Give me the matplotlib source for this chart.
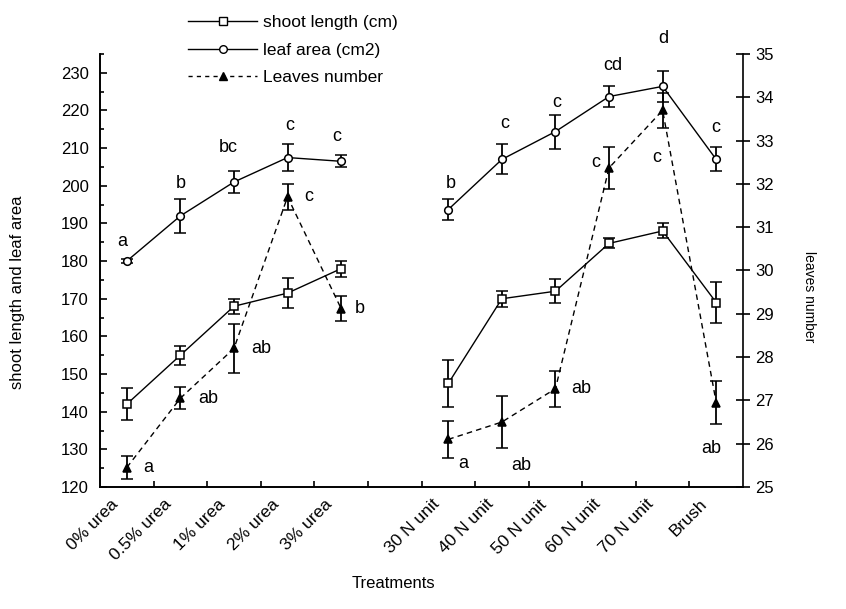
import matplotlib
matplotlib.use("Agg")
import matplotlib.pyplot as plt
from matplotlib.lines import Line2D
from matplotlib.ticker import MultipleLocator
from matplotlib.transforms import ScaledTranslation

# ---------------------------------------------------------------------------
# Data
# ---------------------------------------------------------------------------
treatments = ["0% urea", "0.5% urea", "1% urea", "2% urea", "3% urea",
              "30 N unit", "40 N unit", "50 N unit", "60 N unit",
              "70 N unit", "Brush"]
slots = [0, 1, 2, 3, 4, 6, 7, 8, 9, 10, 11]     # slot 5 is the gap

shoot_length = [142, 155, 168, 171.5, 178, 147.5, 170, 172, 184.7, 188, 169]
shoot_err    = [4.2, 2.5, 2.0, 4.0, 2.1, 6.2, 2.1, 3.2, 1.3, 2.0, 5.5]

leaf_area = [180, 192, 201, 207.5, 206.5, 193.7, 207, 214.4, 223.7, 226.4, 207]
leaf_err  = [0.6, 4.5, 3.0, 3.7, 1.6, 2.7, 4.0, 4.5, 2.8, 4.2, 3.2]

leaves     = [25.45, 27.05, 28.2, 31.7, 29.12, 26.1, 26.5, 27.27, 32.37, 33.7, 26.95]
leaves_err = [0.27, 0.25, 0.57, 0.30, 0.29, 0.42, 0.60, 0.42, 0.48, 0.40, 0.50]

leaf_letters   = ["a", "b", "bc", "c", "c", "b", "c", "c", "cd", "d", "c"]
leaves_letters = ["a", "ab", "ab", "c", "b", "a", "ab", "ab", "c", "c", "ab"]

# letter placement (pixels from the marker)
leaf_letter_off = [(-5, 20), (0, 32), (-6, 35), (2, 32), (-4, 25), (3, 26),
                   (3, 36), (1, 29), (4, 31), (1, 48), (0, 32)]
leaves_letter_off = [(21, 0), (28, 0), (27, 0), (21, 0), (19, 0), (15, -24),
                     (19, -43), (26, 0), (-13, 5), (-6, -47), (-5, -46)]

# ---------------------------------------------------------------------------
# Style
# ---------------------------------------------------------------------------
plt.rcParams.update({
    "font.family": ["Liberation Sans", "DejaVu Sans"],
    "font.size": 12,
    "axes.linewidth": 1.2,
})
BLACK = "black"
FS = 12


def groups(values):
    """Split a per-treatment list into the urea group and the N group."""
    return (slots[:5], values[:5]), (slots[5:], values[5:])


def draw_series(ax, values, errs, marker, ls, mfc):
    for (xs, ys), (_, es) in zip(groups(values), groups(errs)):
        ax.errorbar(xs, ys, yerr=es, color=BLACK, lw=1.0, ls=ls,
                    dashes=(4, 3) if ls == "--" else (None, None),
                    marker=marker, ms=5.5, mfc=mfc, mec=BLACK, mew=1.1,
                    ecolor=BLACK, elinewidth=1.3, capsize=4, capthick=1.3)


fig = plt.figure(figsize=(8.46, 6.09), dpi=100)
ax = fig.add_axes([100 / 846, 1 - 487 / 609, 643 / 846, 433 / 609])
ax2 = ax.twinx()

draw_series(ax, shoot_length, shoot_err, "s", "-", "white")
draw_series(ax, leaf_area, leaf_err, "o", "-", "white")
draw_series(ax2, leaves, leaves_err, "^", "--", BLACK)

# letters
for x, y, t, (dx, dy) in zip(slots, leaf_area, leaf_letters, leaf_letter_off):
    ax.annotate(t, (x, y), xytext=(dx, dy), textcoords="offset pixels",
                ha="center", va="center", fontsize=FS + 1)
for x, y, t, (dx, dy) in zip(slots, leaves, leaves_letters, leaves_letter_off):
    ax2.annotate(t, (x, y), xytext=(dx, dy), textcoords="offset pixels",
                 ha="center", va="center", fontsize=FS + 1)

# axes
ax.set_xlim(-0.5, 11.5)
ax.set_ylim(120, 235)
ax2.set_ylim(25, 35)

ax.yaxis.set_minor_locator(MultipleLocator(5))
ax.set_yticks(range(120, 231, 10))
ax.tick_params(axis="y", which="major", direction="in", length=5, width=1.2,
               labelsize=FS, pad=8)
ax.tick_params(axis="y", which="minor", direction="in", length=3, width=1.2)

ax2.set_yticks(range(25, 36))
ax2.tick_params(axis="y", direction="inout", length=10, width=1.2,
                labelsize=FS, pad=4)

ax.set_xticks(slots, treatments)
ax.set_xticks([s + 0.5 for s in range(11)], minor=True)
ax.tick_params(axis="x", which="major", length=0, pad=7, labelsize=FS + 0.5)
ax.tick_params(axis="x", which="minor", direction="in", length=4, width=1.2)
shift = ScaledTranslation(-6 / 100, 0, fig.dpi_scale_trans)
for lab in ax.get_xticklabels():
    lab.set_rotation(45)
    lab.set_ha("right")
    lab.set_transform(lab.get_transform() + shift)

for a in (ax, ax2):
    a.spines["top"].set_visible(False)
ax.spines["right"].set_visible(False)

ax.set_xlabel("Treatments", fontsize=FS)
ax.xaxis.set_label_coords(0.457, -0.205)
ax.set_ylabel("shoot length and leaf area", fontsize=FS)
ax.yaxis.set_label_coords(-0.117, 0.45)
ax2.set_ylabel("leaves number", fontsize=FS - 2, rotation=270, va="bottom")
ax2.yaxis.set_label_coords(1.091, 0.44)

# legend
handles = [
    Line2D([], [], color=BLACK, lw=1.0, marker="s", ms=5.5, mfc="white",
           mec=BLACK),
    Line2D([], [], color=BLACK, lw=1.0, marker="o", ms=5.5, mfc="white",
           mec=BLACK),
    Line2D([], [], color=BLACK, lw=1.0, ls="--", dashes=(3, 3), marker="^",
           ms=5.5, mfc=BLACK, mec=BLACK),
]
fig.legend(handles, ["shoot length (cm)", "leaf area (cm2)", "Leaves number"],
           loc="upper left", bbox_to_anchor=(188 / 846, 1 - 15 / 609),
           frameon=False, fontsize=12.5, numpoints=1, handlelength=4.0,
           handletextpad=0.3, labelspacing=0.72, borderpad=0, borderaxespad=0)

fig.savefig("out.png", dpi=100)
